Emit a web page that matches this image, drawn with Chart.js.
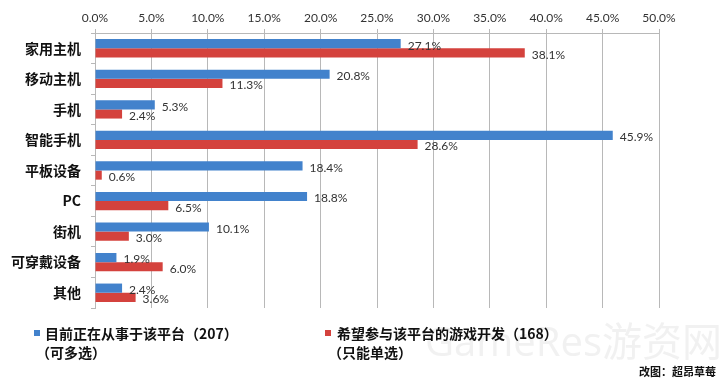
<!DOCTYPE html>
<html><head><meta charset="utf-8">
<script src="https://cdn.jsdelivr.net/npm/chart.js@4.4.0/dist/chart.umd.min.js"></script>
<style>html,body{margin:0;padding:0;background:#fff;}#wrap{width:720px;height:383px;position:relative;}</style>
</head><body><div id="wrap"><canvas id="c" width="720" height="383"></canvas></div>
<script>
const categories = ['家用主机','移动主机','手机','智能手机','平板设备','PC','街机','可穿戴设备','其他'];
const currentValues = [27.1, 20.8, 5.3, 45.9, 18.4, 18.8, 10.1, 1.9, 2.4];
const hopeValues = [38.1, 11.3, 2.4, 28.6, 0.6, 6.5, 3.0, 6.0, 3.6];
const seriesLabels = [['目前正在从事于该平台（207）','（可多选）'], ['希望参与该平台的游戏开发（168）','（只能单选）']];
const tickValues = [0,5,10,15,20,25,30,35,40,45,50];
const credit = '改图：超昂草莓';
const watermark = 'GameRes游资网';

const colors = ['#4282cc', '#d4423d'];
const CJK = '"Noto Sans CJK SC", sans-serif';

const labelPlugin = {
  id: 'valLabels',
  afterDatasetsDraw(chart) {
    const ctx = chart.ctx;
    ctx.save();
    ctx.font = '12px Lato, "Open Sans", sans-serif';
    ctx.fillStyle = '#333';
    ctx.textAlign = 'left';
    ctx.textBaseline = 'middle';
    chart.data.datasets.forEach((ds, di) => {
      chart.getDatasetMeta(di).data.forEach((el, i) => {
        ctx.fillText(ds.data[i].toFixed(1) + '%', el.x + 7, el.y + 2);
      });
    });
    ctx.restore();
  }
};

const legendPlugin = {
  id: 'customLegend',
  afterDraw(chart) {
    const ctx = chart.ctx;
    ctx.save();
    // watermark
    ctx.font = '40px "Liberation Sans Narrow", "Open Sans", ' + CJK;
    ctx.fillStyle = 'rgba(232,232,232,0.6)';
    ctx.textBaseline = 'middle';
    ctx.textAlign = 'left';
    ctx.fillText(watermark, 425, 345);
    const pos = [[37, 45], [328, 337]];
    ctx.font = 'bold 14px ' + CJK;
    seriesLabels.forEach((lines, i) => {
      ctx.fillStyle = colors[i];
      ctx.fillRect(pos[i][0] - 3, 330, 6, 6);
      ctx.fillStyle = '#111';
      lines.forEach((t, j) => {
        ctx.fillText(t, pos[i][1] - (j ? 9 : 0), 334 + j * 19);
      });
    });
    ctx.font = 'bold 11px ' + CJK;
    ctx.textAlign = 'right';
    ctx.fillText(credit, 716, 372);
    ctx.restore();
  }
};

new Chart(document.getElementById('c'), {
  type: 'bar',
  data: {
    labels: categories,
    datasets: [
      { label: seriesLabels[0].join(''), data: currentValues, backgroundColor: colors[0] },
      { label: seriesLabels[1].join(''), data: hopeValues, backgroundColor: colors[1] }
    ]
  },
  options: {
    indexAxis: 'y',
    responsive: false,
    animation: false,
    events: [],
    layout: { padding: { left: 0, right: 61, top: 0, bottom: 75 } },
    datasets: { bar: { categoryPercentage: 0.6, barPercentage: 1.0 } },
    plugins: { legend: { display: false }, tooltip: { enabled: false } },
    scales: {
      x: {
        position: 'top', min: 0, max: 50,
        afterBuildTicks(s) { s.ticks = tickValues.map(v => ({ value: v })); },
        afterFit(s) { s.height = 33; },
        ticks: { callback: v => Number(v).toFixed(1) + '%', color: '#333', font: { family: 'Lato, "Open Sans", sans-serif', size: 12 }, padding: 4 },
        grid: { color: '#b8b8b8', tickLength: 4, lineWidth: 1 },
        border: { color: '#b8b8b8' }
      },
      y: {
        afterFit(s) { s.width = 95; },
        ticks: { color: '#111', font: { family: CJK, size: 14, weight: 'bold' }, padding: 10 },
        grid: { drawOnChartArea: false, color: '#b8b8b8', tickLength: 4 },
        border: { color: '#b8b8b8' }
      }
    }
  },
  plugins: [labelPlugin, legendPlugin]
});
</script></body></html>
